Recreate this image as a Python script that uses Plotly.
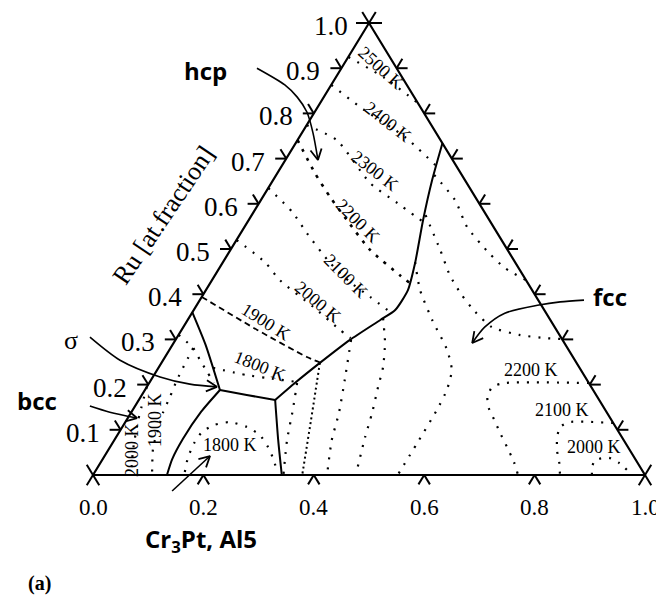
import math
import plotly.graph_objects as go

# ---------------- data (compositions: b = bottom-axis fraction, r = Ru fraction) -------------
# solid phase boundaries
bnd_sig_hcp_b = [0.0, 0.06, 0.136]
bnd_sig_hcp_r = [0.36, 0.288, 0.188]
bnd_sig_a15_b = [0.136, 0.126, 0.123, 0.126, 0.134]
bnd_sig_a15_r = [0.188, 0.14, 0.08, 0.035, 0.0]
bnd_a15_top_b = [0.136, 0.19, 0.247]
bnd_a15_top_r = [0.188, 0.177, 0.166]
bnd_a15_fcc_b = [0.247, 0.297, 0.342]
bnd_a15_fcc_r = [0.166, 0.077, 0.0]
bnd_hcp_fcc_b = [0.247, 0.264, 0.287, 0.316, 0.349, 0.365, 0.366, 0.349, 0.316, 0.288, 0.266]
bnd_hcp_fcc_r = [0.166, 0.2035, 0.248, 0.299, 0.343, 0.365, 0.409, 0.469, 0.564, 0.653, 0.734]

# isotherms, hcp field
iso_hcp_2500_b = [0.0, 0.09, 0.177]
iso_hcp_2500_r = [0.925, 0.878, 0.823]
iso_hcp_2400_b = [0.0, 0.087, 0.191, 0.277]
iso_hcp_2400_r = [0.863, 0.808, 0.748, 0.686]
iso_hcp_2300_b = [0.0, 0.071, 0.179, 0.25, 0.318]
iso_hcp_2300_r = [0.774, 0.741, 0.646, 0.602, 0.56]
iso_hcp_2200_b = [0.0, 0.068, 0.122, 0.178, 0.253, 0.335, 0.361]
iso_hcp_2200_r = [0.741, 0.668, 0.615, 0.564, 0.498, 0.442, 0.425]
iso_hcp_2100_b = [0.0, 0.07, 0.12, 0.195, 0.252, 0.305, 0.362]
iso_hcp_2100_r = [0.635, 0.582, 0.535, 0.469, 0.427, 0.394, 0.358]
iso_hcp_2000_b = [0.0, 0.076, 0.123, 0.213, 0.287, 0.315]
iso_hcp_2000_r = [0.52, 0.471, 0.431, 0.372, 0.321, 0.303]
iso_hcp_1900_b = [0.0, 0.137, 0.257, 0.289]
iso_hcp_1900_r = [0.394, 0.321, 0.261, 0.248]
iso_hcp_1800_b = [0.099, 0.168, 0.208, 0.266]
iso_hcp_1800_r = [0.237, 0.221, 0.2146, 0.206]

# isotherms, sigma field
iso_sig_a_b = [0.0, 0.041, 0.067, 0.093, 0.117]
iso_sig_a_r = [0.31, 0.281, 0.254, 0.228, 0.204]
iso_sig_1900_b = [0.041, 0.047, 0.053, 0.058, 0.068, 0.078, 0.107]
iso_sig_1900_r = [0.281, 0.21, 0.173, 0.137, 0.1, 0.062, 0.0]
iso_sig_2000_b = [0.0, 0.021, 0.045, 0.069]
iso_sig_2000_r = [0.195, 0.122, 0.055, 0.0]

# isotherm, A15 field
iso_a15_1800_b = [0.163, 0.153, 0.148, 0.150, 0.164, 0.190, 0.226, 0.258, 0.286, 0.311, 0.330]
iso_a15_1800_r = [0.0066, 0.0376, 0.0708, 0.0951, 0.1106, 0.117, 0.106, 0.0885, 0.062, 0.033, 0.0066]

# isotherms, fcc field
iso_fcc_1_b = [0.268, 0.29, 0.313, 0.345]
iso_fcc_1_r = [0.2035, 0.144, 0.077, 0.0]
iso_fcc_2_b = [0.287, 0.334, 0.379]
iso_fcc_2_r = [0.248, 0.122, 0.0]
iso_fcc_3_b = [0.318, 0.351, 0.377, 0.394, 0.424]
iso_fcc_3_r = [0.299, 0.21, 0.137, 0.077, 0.0]
iso_fcc_4_b = [0.352, 0.383, 0.406, 0.419, 0.437, 0.451, 0.476]
iso_fcc_4_r = [0.347, 0.292, 0.239, 0.195, 0.137, 0.084, 0.0]
iso_fcc_5_b = [0.348, 0.388, 0.443, 0.503, 0.534, 0.547, 0.551, 0.552, 0.552]
iso_fcc_5_r = [0.471, 0.409, 0.343, 0.277, 0.232, 0.188, 0.144, 0.07, 0.0]
iso_fcc_6_b = [0.315, 0.38, 0.425, 0.469, 0.512, 0.559, 0.617, 0.667, 0.699]
iso_fcc_6_r = [0.575, 0.498, 0.4425, 0.398, 0.361, 0.327, 0.31, 0.303, 0.301]
iso_fcc_7_b = [0.286, 0.352, 0.403, 0.472, 0.517, 0.569]
iso_fcc_7_r = [0.664, 0.608, 0.549, 0.491, 0.458, 0.431]
iso_fcc_2200_b = [0.797, 0.644, 0.626, 0.628, 0.643, 0.666, 0.691, 0.719, 0.748, 0.77]
iso_fcc_2200_r = [0.2035, 0.2035, 0.195, 0.173, 0.148, 0.122, 0.093, 0.062, 0.029, 0.0]
iso_fcc_2100_b = [0.885, 0.804, 0.793, 0.799, 0.813, 0.83, 0.846]
iso_fcc_2100_r = [0.115, 0.117, 0.106, 0.084, 0.055, 0.029, 0.0]
iso_fcc_2000_b = [0.904, 0.896, 0.893, 0.916, 0.94, 0.968]
iso_fcc_2000_r = [0.0, 0.0155, 0.033, 0.038, 0.0265, 0.0066]

# isotherm labels: text, b, r, angle
iso_label_text = ["2500 K", "2400 K", "2300 K", "2200 K", "2100 K", "2000 K", "1900 K", "1800 K",
                  "1800 K", "1900 K", "2000 K", "2200 K", "2100 K", "2000 K"]
iso_label_b = [0.072, 0.144, 0.175, 0.199, 0.238, 0.216, 0.144, 0.182,
               0.215, 0.0515, 0.043, 0.6775, 0.778, 0.877]
iso_label_r = [0.900, 0.781, 0.6726, 0.562, 0.440, 0.3827, 0.3385, 0.241,
               0.0664, 0.1217, 0.0553, 0.232, 0.1438, 0.062]
iso_label_angle = [42, 38, 38, 45, 45, 40, 32, 22, 0, -90, -90, 0, 0, 0]

# pointer arrows (b, r)
arr_hcp_b = [-0.153, -0.084, -0.048, -0.014, 0.020, 0.059]
arr_hcp_r = [0.90, 0.863, 0.836, 0.803, 0.757, 0.697]
arr_sig_b = [-0.158, -0.078, 0.013, 0.075, 0.127]
arr_sig_r = [0.305, 0.254, 0.217, 0.201, 0.195]
arr_bcc_b = [-0.082, -0.039, 0.0167]
arr_bcc_r = [0.1527, 0.139, 0.126]
arr_fcc_b = [0.696, 0.655, 0.620, 0.567, 0.546, 0.541]
arr_fcc_r = [0.387, 0.383, 0.376, 0.358, 0.327, 0.292]
arr_a15_b = [0.161, 0.191]
arr_a15_r = [-0.0354, 0.042]

# ticks
left_ticks = [0.1, 0.2, 0.3, 0.4, 0.5, 0.6, 0.7, 0.8, 0.9]
left_labels = ["0.1", "0.2", "0.3", "0.4", "0.5", "0.6", "0.7", "0.8", "0.9", "1.0"]
left_label_vals = [0.1, 0.2, 0.3, 0.4, 0.5, 0.6, 0.7, 0.8, 0.9, 1.0]
bottom_ticks = [0.2, 0.4, 0.6, 0.8]
bottom_labels = ["0.0", "0.2", "0.4", "0.6", "0.8", "1.0"]
bottom_label_vals = [0.0, 0.2, 0.4, 0.6, 0.8, 1.0]
right_ticks = [0.1, 0.2, 0.3, 0.4, 0.5, 0.6, 0.7, 0.8, 0.9]

# ---------------- helpers -------------
SX, SY = 552.0, 452.0  # px per data unit, used only for direction math
OFF = 8  # page body margin
W, H = 664 - OFF, 596 - OFF
SERIF = "Liberation Serif, Times New Roman, serif"
SANS = "Open Sans, Noto Sans, sans-serif"


def to_xy(b, r):
    return [bi + ri / 2.0 for bi, ri in zip(b, r)], list(r)


def paper(px, py):
    return (px - OFF) / W, 1 - (py - OFF) / H


fig = go.Figure()


def add_line(b, r, width=2.0, dash="solid", color="black"):
    x, y = to_xy(b, r)
    fig.add_trace(go.Scatter(x=x, y=y, mode="lines", hoverinfo="skip",
                             line=dict(color=color, width=width, dash=dash,
                                       shape="spline", smoothing=0.6)))


ux_l, uy_l = 276 / 529.6, 452 / 529.6  # along left edge upward (pixel space)


def segs(points, dirs, L=11):
    xs, ys = [], []
    for (b, r) in points:
        x0, y0 = b + r / 2.0, r
        for dx, dy in dirs:
            xs += [x0, x0 + L * dx / SX, None]
            ys += [y0, y0 + L * dy / SY, None]
    return xs, ys


tx, ty = [], []
x_, y_ = segs([(0.0, v) for v in left_ticks], [(-1, 0), (-ux_l, uy_l)])
tx += x_; ty += y_
x_, y_ = segs([(v, 0.0) for v in bottom_ticks], [(-ux_l, -uy_l), (ux_l, -uy_l)])
tx += x_; ty += y_
x_, y_ = segs([(1 - v, v) for v in right_ticks], [(1, 0), (ux_l, uy_l)])
tx += x_; ty += y_
x_, y_ = segs([(0.0, 0.0)], [(-ux_l, -uy_l), (-ux_l, uy_l), (ux_l, -uy_l)], L=12)
tx += x_; ty += y_
x_, y_ = segs([(1.0, 0.0)], [(ux_l, -uy_l), (ux_l, uy_l), (-ux_l, -uy_l)], L=12)
tx += x_; ty += y_
x_, y_ = segs([(0.0, 1.0)], [(-1, 0), (1, 0), (ux_l, uy_l), (-ux_l, uy_l)], L=13)
tx += x_; ty += y_

fx, fy = to_xy([0, 1, 0, 0], [0, 0, 1, 0])
fig.add_trace(go.Scatter(x=fx, y=fy, mode="lines", hoverinfo="skip",
                         line=dict(color="black", width=2.2)))
fig.add_trace(go.Scatter(x=tx, y=ty, mode="lines", hoverinfo="skip",
                         line=dict(color="black", width=2)))

for b, r in [(bnd_sig_hcp_b, bnd_sig_hcp_r), (bnd_sig_a15_b, bnd_sig_a15_r),
             (bnd_a15_top_b, bnd_a15_top_r), (bnd_a15_fcc_b, bnd_a15_fcc_r),
             (bnd_hcp_fcc_b, bnd_hcp_fcc_r)]:
    add_line(b, r, width=2.0)

DOT = "2px,8px"
for b, r in [(iso_hcp_2500_b, iso_hcp_2500_r), (iso_hcp_2400_b, iso_hcp_2400_r),
             (iso_hcp_2300_b, iso_hcp_2300_r), (iso_hcp_2100_b, iso_hcp_2100_r),
             (iso_hcp_2000_b, iso_hcp_2000_r), (iso_hcp_1800_b, iso_hcp_1800_r),
             (iso_sig_a_b, iso_sig_a_r), (iso_sig_1900_b, iso_sig_1900_r),
             (iso_sig_2000_b, iso_sig_2000_r), (iso_a15_1800_b, iso_a15_1800_r),
             (iso_fcc_1_b, iso_fcc_1_r), (iso_fcc_3_b, iso_fcc_3_r),
             (iso_fcc_4_b, iso_fcc_4_r), (iso_fcc_5_b, iso_fcc_5_r),
             (iso_fcc_6_b, iso_fcc_6_r), (iso_fcc_7_b, iso_fcc_7_r),
             (iso_fcc_2200_b, iso_fcc_2200_r), (iso_fcc_2100_b, iso_fcc_2100_r),
             (iso_fcc_2000_b, iso_fcc_2000_r)]:
    add_line(b, r, width=2.2, dash=DOT)
add_line(iso_hcp_2200_b, iso_hcp_2200_r, width=2.6, dash="3px,7px")
add_line(iso_hcp_1900_b, iso_hcp_1900_r, width=1.8, dash="6px,4px")
add_line(iso_fcc_2_b, iso_fcc_2_r, width=2.0, dash="2px,3px")


def add_arrow(b, r, L=12, ang=28):
    x, y = to_xy(b, r)
    fig.add_trace(go.Scatter(x=x, y=y, mode="lines", hoverinfo="skip",
                             line=dict(color="black", width=1.6, shape="spline", smoothing=0.8)))
    dx = (x[-1] - x[-2]) * SX
    dy = (y[-1] - y[-2]) * SY
    n = math.hypot(dx, dy)
    ux, uy = dx / n, dy / n
    hx, hy = [], []
    for s in (1, -1):
        a = math.radians(ang * s)
        rx = ux * math.cos(a) - uy * math.sin(a)
        ry = ux * math.sin(a) + uy * math.cos(a)
        hx.append(x[-1] - L * rx / SX)
        hy.append(y[-1] - L * ry / SY)
    fig.add_trace(go.Scatter(x=[hx[0], x[-1], hx[1]], y=[hy[0], y[-1], hy[1]], mode="lines",
                             hoverinfo="skip", line=dict(color="black", width=1.8)))


for b, r in [(arr_hcp_b, arr_hcp_r), (arr_sig_b, arr_sig_r), (arr_bcc_b, arr_bcc_r),
             (arr_fcc_b, arr_fcc_r), (arr_a15_b, arr_a15_r)]:
    add_arrow(b, r)

ann = []
for t, b, r, a in zip(iso_label_text, iso_label_b, iso_label_r, iso_label_angle):
    ann.append(dict(x=b + r / 2.0, y=r, xref="x", yref="y", text=t, showarrow=False,
                    xanchor="center", yanchor="middle",
                    textangle=a, font=dict(family=SERIF, size=18, color="black")))
for t, v in zip(left_labels, left_label_vals):
    ann.append(dict(x=v / 2.0, y=v, xref="x", yref="y", text=t, showarrow=False,
                    xanchor="right", yanchor="middle", xshift=-19, yshift=-3,
                    font=dict(family=SERIF, size=27, color="black")))
for t, v in zip(bottom_labels, bottom_label_vals):
    ann.append(dict(x=v, y=0, xref="x", yref="y", text=t, showarrow=False,
                    xanchor="center", yanchor="middle", yshift=-32,
                    font=dict(family=SERIF, size=23, color="black")))


def plab(px, py, text, family, size, angle=0):
    x, y = paper(px, py)
    return dict(x=x, y=y, xref="paper", yref="paper", text=text, showarrow=False,
                xanchor="center", yanchor="middle", textangle=angle,
                font=dict(family=family, size=size, color="black"))


ann += [
    plab(163, 215, "Ru [at.fraction]", SERIF, 26, -56),
    plab(205, 70, "<b>hcp</b>", SANS, 24),
    plab(610, 297, "<b>fcc</b>", SANS, 24),
    plab(37, 400, "<b>bcc</b>", SANS, 24),
    plab(71, 340, "σ", SERIF, 26),
    plab(201, 540, "<b>Cr<sub>3</sub>Pt, Al5</b>", SANS, 24),
    plab(39, 583, "<b>(a)</b>", SERIF, 20),
]

fig.update_layout(
    width=W, height=H, margin=dict(l=0, r=0, t=0, b=0),
    paper_bgcolor="white", plot_bgcolor="white", showlegend=False,
    xaxis=dict(range=[(OFF - 93) / 552, (664 - 93) / 552], visible=False, fixedrange=True),
    yaxis=dict(range=[(475 - 596) / 452, (475 - OFF) / 452], visible=False, fixedrange=True),
    annotations=ann,
)

fig.write_html("out.html")
